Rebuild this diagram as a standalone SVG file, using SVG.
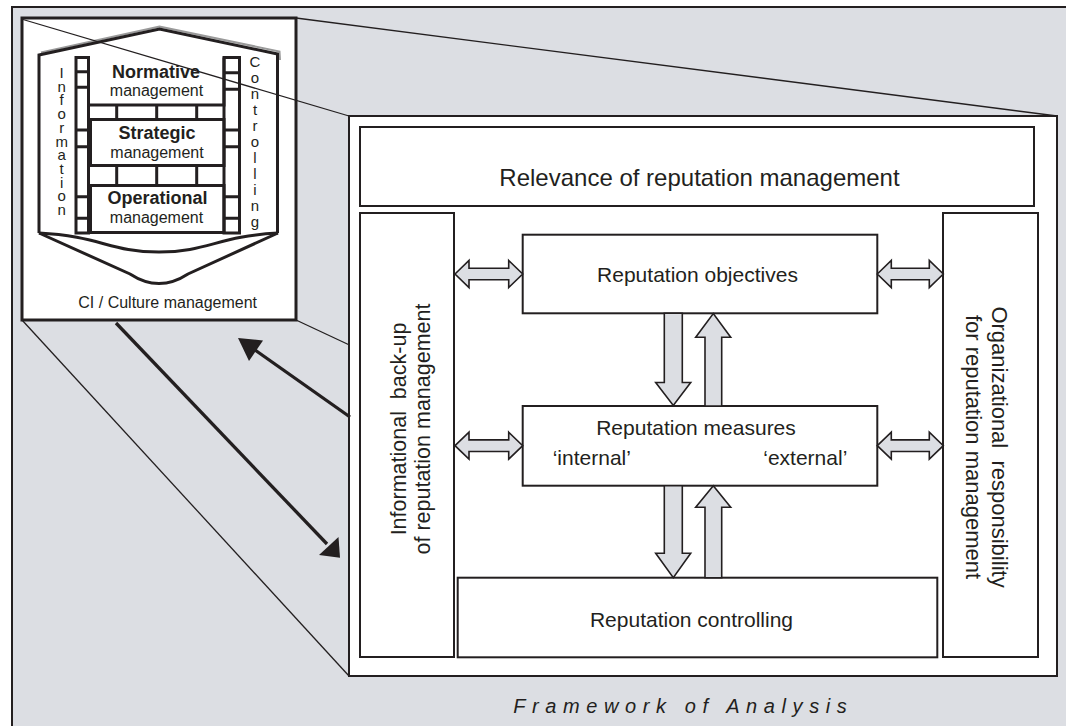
<svg xmlns="http://www.w3.org/2000/svg" width="1066" height="726" viewBox="0 0 1066 726">
<defs>
<style>
.t{font-family:"Liberation Sans",Arial,sans-serif;fill:#231f20}
.vert{writing-mode:vertical-rl;text-orientation:upright}
.box{fill:#fff;stroke:#231f20;stroke-width:2}
.thick{fill:none;stroke:#231f20;stroke-width:3;stroke-linejoin:miter}
.thin{fill:none;stroke:#231f20;stroke-width:1.3}
.garrow{fill:#dcdee3;stroke:#231f20;stroke-width:1.6;stroke-linejoin:miter}
.barrow{stroke:#231f20;stroke-width:3.3;fill:none}
.bhead{fill:#231f20;stroke:none}
</style>
</defs>
<rect x="0" y="0" width="1066" height="726" fill="#fff"/>
<rect id="frame" x="12" y="7" width="1070" height="730" fill="#dcdee3" stroke="#231f20" stroke-width="2"/>

<g id="inset">
<rect x="22" y="18" width="274" height="302" fill="#fff" stroke="#231f20" stroke-width="3"/>
<polyline points="41,52.5 159.5,26.5 279.5,51.5 280,60" fill="none" stroke="#9a9a9a" stroke-width="2"/>
<path class="thick" d="M39,233 V55 L159.5,29 L277.5,54 V233"/>
<path class="thick" d="M39,233 L130,274 Q159,293 188,274 L278,233"/>
<path class="thick" d="M39,233 C100,236 110,252 159,252 C208,252 218,236 278,233"/>
<path class="thick" d="M76,233 V57.5 H88.5 V233 Z"/>
<path class="thick" d="M224,233 V57.5 H239.5 V233 Z"/>
<path class="thick" d="M88.5,57.5 V105 H224 V57.5"/>
<rect class="thick" x="90.5" y="119.5" width="133.5" height="46"/>
<rect class="thick" x="90.5" y="185.5" width="133.5" height="47"/>
<path class="thick" d="M76,71.7 H88.5 M76,87.3 H88.5 M76,130 H90.5 M76,146.7 H90.5 M76,196.7 H90.5 M76,218.3 H90.5 M224,72.7 H239.5 M224,89.3 H239.5 M224,130 H239.5 M224,146.7 H239.5 M224,196.7 H239.5 M224,218.3 H239.5 M116.7,105 V119.5 M156.7,105 V119.5 M196.7,105 V119.5 M116.7,165.5 V185.5 M156.7,165.5 V185.5 M196.7,165.5 V185.5"/>
<g class="t" font-size="18" font-weight="bold" text-anchor="middle">
<text x="156" y="78.3">Normative</text>
<text x="157" y="139.3">Strategic</text>
<text x="157.5" y="204">Operational</text>
</g>
<g class="t" font-size="16" text-anchor="middle">
<text x="156.5" y="96">management</text>
<text x="157" y="158.3">management</text>
<text x="156.5" y="222.7">management</text>
<text x="167.7" y="308.3">CI / Culture management</text>
</g>
<text class="t vert" x="61.7" y="64" font-size="15" textLength="154" lengthAdjust="spacing">Information</text>
<text class="t vert" x="255" y="53" font-size="15" textLength="177" lengthAdjust="spacing">Controlling</text>
</g>

<g id="projection">
<line class="thin" x1="23" y1="19.5" x2="349" y2="116"/>
<line class="thin" x1="296" y1="18" x2="1057" y2="116"/>
<line class="thin" x1="22" y1="320" x2="349" y2="676"/>
<line class="thin" x1="296" y1="320" x2="1057" y2="676"/>
</g>

<g id="framework">
<rect class="box" x="349" y="116" width="708" height="560"/>
</g>

<g id="relevance">
<rect class="box" x="360" y="127" width="674" height="79"/>
<text class="t" x="699.5" y="186" font-size="24" text-anchor="middle">Relevance of reputation management</text>
</g>

<g id="informational">
<rect class="box" x="360" y="213" width="94" height="444"/>
<text class="t" font-size="21.5" text-anchor="middle" transform="translate(406,429) rotate(-90)"><tspan x="0" y="0" xml:space="preserve">Informational  back-up</tspan><tspan x="0" y="24">of reputation management</tspan></text>
</g>

<g id="organizational">
<rect class="box" x="943" y="213" width="95" height="444"/>
<text class="t" font-size="22" text-anchor="middle" transform="translate(992,447) rotate(90)"><tspan x="0" y="0" xml:space="preserve">Organizational  responsibility</tspan><tspan x="0" y="26">for reputation management</tspan></text>
</g>

<g id="objectives">
<rect class="box" x="522.7" y="234.7" width="354.6" height="78.6"/>
<text class="t" x="697.5" y="281.7" font-size="21" text-anchor="middle">Reputation objectives</text>
</g>

<g id="measures">
<rect class="box" x="522.7" y="406" width="354.6" height="79.7"/>
<text class="t" x="696" y="435" font-size="21" text-anchor="middle">Reputation measures</text>
<text class="t" x="552.7" y="465" font-size="21">‘internal’</text>
<text class="t" x="847.3" y="465" font-size="21" text-anchor="end">‘external’</text>
</g>

<g id="controlling">
<rect class="box" x="457.7" y="577.7" width="479.6" height="79.6"/>
<text class="t" x="691.5" y="626.5" font-size="21" text-anchor="middle">Reputation controlling</text>
</g>

<g id="connectors">
<polygon class="garrow" points="455,274 469,260.5 469,268.2 508.7,268.2 508.7,260.5 522.7,274 508.7,287.5 508.7,279.8 469,279.8 469,287.5"/>
<polygon class="garrow" points="877.3,274 891.3,260.5 891.3,268.2 929.3,268.2 929.3,260.5 943.3,274 929.3,287.5 929.3,279.8 891.3,279.8 891.3,287.5"/>
<polygon class="garrow" points="455,445.7 469,432.2 469,439.9 508.7,439.9 508.7,432.2 522.7,445.7 508.7,459.2 508.7,451.5 469,451.5 469,459.2"/>
<polygon class="garrow" points="877.3,445.7 891.3,432.2 891.3,439.9 929.3,439.9 929.3,432.2 943.3,445.7 929.3,459.2 929.3,451.5 891.3,451.5 891.3,459.2"/>
<polygon class="garrow" points="664.3,313.3 682.3,313.3 682.3,382.5 690.7,382.5 673.3,405.5 655.7,382.5 664.3,382.5"/>
<polygon class="garrow" points="705,406 721.7,406 721.7,337.3 730.7,337.3 713.3,313.5 695.7,337.3 705,337.3"/>
<polygon class="garrow" points="664.3,485.7 682.3,485.7 682.3,553.3 690.7,553.3 673.3,577.7 655.7,553.3 664.3,553.3"/>
<polygon class="garrow" points="705,577.7 721.7,577.7 721.7,507.3 730.7,507.3 713.3,485.7 695.7,507.3 705,507.3"/>
<line class="barrow" x1="350" y1="417" x2="255" y2="350"/>
<polygon class="bhead" points="238,338 263,340.5 249,361"/>
<line class="barrow" x1="116" y1="323" x2="327" y2="544"/>
<polygon class="bhead" points="340,557.7 338.5,537 319,555"/>
</g>

<text id="caption" class="t" x="513.3" y="712.7" font-size="20" font-style="italic" letter-spacing="6.6" fill="#333">Framework of Analysis</text>
</svg>
